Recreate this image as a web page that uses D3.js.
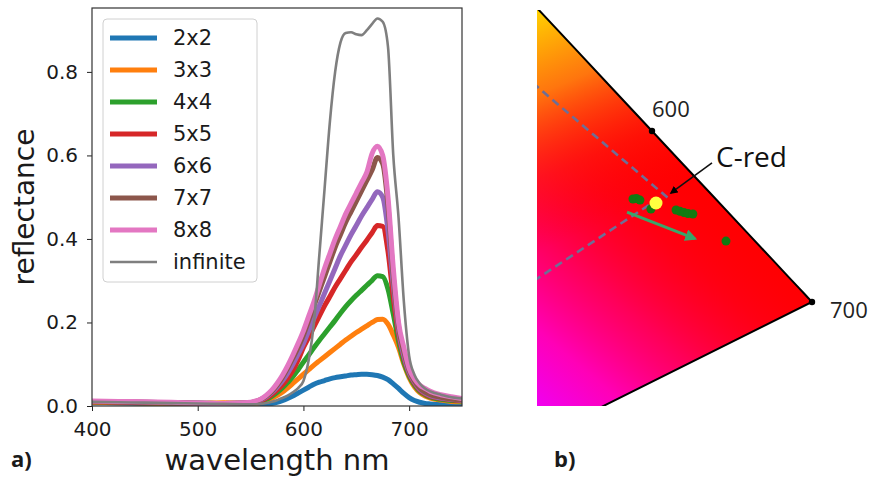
<!DOCTYPE html>
<html>
<head>
<meta charset="utf-8">
<script src="https://cdn.jsdelivr.net/npm/d3@7"></script>
<style>
  body { margin: 0; background: #fff; }
  svg { display: block; }
</style>
</head>
<body>
<svg id="chart" width="869" height="479"></svg>
<script>
// ---- panel a: reflectance spectra ----
const wavelengths = [400,425,450,475,500,525,550,555,560,565,570,575,580,585,590,595,600,605,610,615,620,625,630,635,640,645,650,655,660,665,670,675,680,685,690,695,700,705,710,715,720,730,740,750];

const r2x2 = [.008,.007,.006,.005,.004,.003,.002, .002,.003,.004,.006,.009,.013,.018,.024,.031,
  .038,.045,.052,.057,.061,.065,.068,.070,.072,.074, .075,.076,.076,.075,.073,.069,.063,.053,.042,.030,
  .020,.013,.009,.006,.005,.004,.003,.003];
const r3x3 = [.009,.008,.007,.006,.006,.008,.005, .006,.009,.013,.018,.025,.033,.043,.054,.065,
  .076,.087,.098,.108,.118,.128,.138,.148,.158,.167, .176,.184,.192,.200,.207,.208,.196,.170,.140,.100,
  .068,.046,.032,.024,.019,.014,.011,.010];
const r4x4 = [.010,.009,.008,.007,.006,.006,.006, .008,.011,.016,.023,.032,.043,.056,.070,.087,
  .105,.122,.140,.157,.173,.189,.205,.222,.238,.252, .265,.277,.289,.301,.312,.310,.280,.220,.155,.105,
  .072,.050,.035,.027,.021,.016,.013,.012];
const r5x5 = [.010,.009,.008,.007,.006,.006,.007, .009,.013,.019,.027,.038,.050,.066,.085,.110,
  .140,.165,.190,.215,.240,.262,.285,.305,.325,.345, .362,.380,.397,.415,.432,.430,.370,.260,.170,.115,
  .077,.054,.038,.029,.023,.018,.015,.013];
const r6x6 = [.011,.010,.009,.008,.007,.006,.007, .010,.015,.022,.032,.045,.060,.078,.100,.124,
  .150,.180,.210,.240,.270,.300,.330,.360,.385,.410, .432,.455,.475,.495,.513,.500,.420,.290,.180,.120,
  .080,.057,.040,.031,.025,.019,.016,.014];
const r7x7 = [.011,.010,.009,.008,.007,.006,.008, .011,.016,.024,.035,.050,.068,.090,.115,.140,
  .170,.205,.240,.275,.310,.345,.380,.410,.440,.465, .490,.515,.540,.565,.595,.580,.480,.310,.190,.130,
  .085,.060,.043,.033,.027,.021,.017,.015];
const r8x8 = [.012,.011,.010,.009,.007,.006,.009, .012,.017,.026,.038,.054,.073,.096,.122,.150,
  .180,.215,.250,.290,.330,.365,.400,.430,.460,.485, .510,.535,.560,.605,.622,.600,.500,.330,.200,.140,
  .090,.065,.050,.042,.035,.027,.022,.018];
const rInf = [.010,.009,.008,.007,.006,.005,.004, .004,.005,.007,.010,.014,.019,.025,.033,.043,
  .060,.110,.200,.360,.520,.680,.800,.870,.893,.895, .890,.888,.900,.915,.928,.920,.860,.600,.450,.250,
  .120,.075,.054,.042,.035,.027,.021,.018];

const seriesNames = ['2x2','3x3','4x4','5x5','6x6','7x7','8x8','infinite'];
const seriesValues = [r2x2, r3x3, r4x4, r5x5, r6x6, r7x7, r8x8, rInf];
const seriesColors = ['#1f77b4','#ff7f0e','#2ca02c','#d62728','#9467bd','#8c564b','#e377c2','#7f7f7f'];
const xTicks = [400, 500, 600, 700];
const yTicks = [0, 0.2, 0.4, 0.6, 0.8];

// ---- panel b: chromaticity detail (CIE 1931 xy) ----
const locusWl = [580, 585, 590, 595, 600, 605, 610, 620, 630, 640, 650, 660, 670, 680, 690, 700];
const locusX = [0.5125,0.5448,0.5752,0.6029,0.6270,0.6482,0.6658,0.6915,0.7079,0.7190,0.7260,0.7300,0.7320,0.7334,0.7344,0.7347];
const locusY = [0.4866,0.4544,0.4242,0.3965,0.3725,0.3514,0.3340,0.3083,0.2920,0.2809,0.2740,0.2700,0.2680,0.2666,0.2656,0.2653];
const purpleEnd = [0.1741, 0.0050];      // 380 nm
const markedWl = [600, 700];
const dashedLines = [
  [[0.5400, 0.4080], [0.6378, 0.3305]],
  [[0.5400, 0.2740], [0.6270, 0.3274]]
];
const cRed = [0.6297, 0.3274];
const greenPoints = [[0.6142,0.3299],[0.6165,0.3302],[0.6189,0.3292],[0.6263,0.3236],[0.6432,0.3230],
  [0.6458,0.3222],[0.6485,0.3214],[0.6512,0.3208],[0.6545,0.3205],[0.6768,0.3035]];
const shiftArrow = [[0.6102, 0.3217], [0.6559, 0.3050]];

const svg = d3.select('#chart');
const defs = svg.append('defs');

// ================= panel a =================
const x = d3.scaleLinear().domain([400, 750]).range([92, 462]);
const y = d3.scaleLinear().domain([0, 0.953]).range([406, 8]);

defs.append('clipPath').attr('id', 'clipA').append('rect')
  .attr('x', x.range()[0]).attr('y', y.range()[1])
  .attr('width', x.range()[1] - x.range()[0]).attr('height', y.range()[0] - y.range()[1]);

const line = d3.line()
  .x((d, i) => x(wavelengths[i]))
  .y(d => y(d))
  .curve(d3.curveMonotoneX);

const plotA = svg.append('g').attr('clip-path', 'url(#clipA)');
seriesValues.forEach((vals, i) => {
  plotA.append('path')
    .datum(vals)
    .attr('d', line)
    .attr('fill', 'none')
    .attr('stroke', seriesColors[i])
    .attr('stroke-width', i === 7 ? 2.6 : 5)
    .attr('stroke-linejoin', 'round');
});

const tickFont = g => g.selectAll('text')
  .style('font-family', '"DejaVu Sans", sans-serif')
  .style('font-size', '20px')
  .attr('fill', '#1a1a1a');

svg.append('g')
  .attr('transform', `translate(0,${y(0)})`)
  .call(d3.axisBottom(x).tickValues(xTicks).tickSize(5).tickPadding(11).tickFormat(d3.format('d')))
  .call(g => g.select('.domain').remove())
  .call(g => g.selectAll('line').attr('stroke', '#222'))
  .call(tickFont);

svg.append('g')
  .attr('transform', `translate(${x(400)},0)`)
  .call(d3.axisLeft(y).tickValues(yTicks).tickSize(5).tickPadding(9).tickFormat(d3.format('.1f')))
  .call(g => g.select('.domain').remove())
  .call(g => g.selectAll('line').attr('stroke', '#222'))
  .call(tickFont);

svg.append('rect')
  .attr('x', x.range()[0]).attr('y', y.range()[1])
  .attr('width', x.range()[1] - x.range()[0]).attr('height', y.range()[0] - y.range()[1])
  .attr('fill', 'none').attr('stroke', '#333').attr('stroke-width', 1.2);

// legend
const legend = svg.append('g').attr('transform', 'translate(103,19)');
legend.append('rect')
  .attr('width', 154).attr('height', 263).attr('rx', 4)
  .attr('fill', '#fff').attr('fill-opacity', 0.8)
  .attr('stroke', '#d0d0d0');
seriesNames.forEach((name, i) => {
  const row = legend.append('g').attr('transform', `translate(0,${19 + i * 32})`);
  row.append('line')
    .attr('x1', 7).attr('x2', 54)
    .attr('stroke', seriesColors[i])
    .attr('stroke-width', i === 7 ? 2.6 : 5);
  row.append('text')
    .attr('x', 70).attr('dy', '0.35em')
    .style('font-family', '"DejaVu Sans", sans-serif')
    .style('font-size', '21px')
    .attr('fill', '#1a1a1a')
    .text(name);
});

svg.append('text')
  .attr('x', (x.range()[0] + x.range()[1]) / 2).attr('y', 470)
  .attr('text-anchor', 'middle')
  .style('font-family', '"DejaVu Sans", sans-serif')
  .style('font-size', '29px')
  .attr('fill', '#1a1a1a')
  .text('wavelength nm');

svg.append('text')
  .attr('transform', `translate(34,${(y.range()[0] + y.range()[1]) / 2}) rotate(-90)`)
  .attr('text-anchor', 'middle')
  .style('font-family', '"DejaVu Sans", sans-serif')
  .style('font-size', '28px')
  .attr('fill', '#1a1a1a')
  .text('reflectance');

svg.append('text')
  .attr('x', 11).attr('y', 467)
  .style('font-family', '"Open Sans", sans-serif')
  .style('font-size', '22px').style('font-weight', 700)
  .attr('fill', '#1a1a1a')
  .text('a)');

// ================= panel b =================
const bx = d3.scaleLinear().domain([0.5496, 0.7347]).range([537, 812]);
const by = d3.scaleLinear().domain([0.4484, 0.2001]).range([10, 406]);

defs.append('clipPath').attr('id', 'clipB').append('rect')
  .attr('x', bx(0.5496)).attr('y', by(0.4484))
  .attr('width', 869 - bx(0.5496)).attr('height', by(0.2001) - by(0.4484));

// colour wash
const gYellow = defs.append('linearGradient').attr('id', 'gYellow')
  .attr('gradientUnits', 'userSpaceOnUse')
  .attr('x1', 537).attr('y1', 10).attr('x2', 625).attr('y2', 215);
[[0, '#ffd200', 1], [0.35, '#ff8a10', 0.85], [0.7, '#ff3010', 0.35], [1, '#ff0000', 0]]
  .forEach(s => gYellow.append('stop').attr('offset', s[0]).attr('stop-color', s[1]).attr('stop-opacity', s[2]));

const gMagenta = defs.append('linearGradient').attr('id', 'gMagenta')
  .attr('gradientUnits', 'userSpaceOnUse')
  .attr('x1', 537).attr('y1', 406).attr('x2', 725).attr('y2', 185);
[[0, '#f000f0', 1], [0.2, '#ff00c0', 0.95], [0.45, '#ff0080', 0.7], [0.72, '#ff0040', 0.3], [1, '#ff0000', 0]]
  .forEach(s => gMagenta.append('stop').attr('offset', s[0]).attr('stop-color', s[1]).attr('stop-opacity', s[2]));

const locusPts = locusX.map((v, i) => [v, locusY[i]]);
const outline = locusPts.concat([purpleEnd]);
const polyLine = d3.line().x(d => bx(d[0])).y(d => by(d[1]));

const plotB = svg.append('g').attr('clip-path', 'url(#clipB)');
plotB.append('path').attr('d', polyLine(outline) + 'Z').attr('fill', '#ff0000');
plotB.append('path').attr('d', polyLine(outline) + 'Z').attr('fill', 'url(#gMagenta)');
plotB.append('path').attr('d', polyLine(outline) + 'Z').attr('fill', 'url(#gYellow)');

dashedLines.forEach(seg => {
  plotB.append('path')
    .attr('d', polyLine(seg))
    .attr('fill', 'none')
    .attr('stroke', '#6e6e96')
    .attr('stroke-width', 2.6)
    .attr('stroke-dasharray', '8,5');
});

plotB.selectAll('circle.gp')
  .data(greenPoints)
  .join('circle')
  .attr('class', 'gp')
  .attr('cx', d => bx(d[0])).attr('cy', d => by(d[1]))
  .attr('r', 4.5)
  .attr('fill', '#127a12');

plotB.append('circle')
  .attr('cx', bx(cRed[0])).attr('cy', by(cRed[1]))
  .attr('r', 6.5)
  .attr('fill', '#ffff40');

defs.append('marker').attr('id', 'headGreen')
  .attr('viewBox', '0 0 10 10').attr('refX', 8).attr('refY', 5)
  .attr('markerWidth', 4).attr('markerHeight', 4).attr('orient', 'auto')
  .append('path').attr('d', 'M0,0 L10,5 L0,10 Z').attr('fill', '#3aa66a');

plotB.append('path')
  .attr('d', polyLine(shiftArrow))
  .attr('stroke', '#3aa66a').attr('stroke-width', 3)
  .attr('marker-end', 'url(#headGreen)');

plotB.append('path')
  .attr('d', polyLine(locusPts.concat([purpleEnd])))
  .attr('fill', 'none').attr('stroke', '#000').attr('stroke-width', 2);

// labelled wavelengths
markedWl.forEach(wl => {
  const i = locusWl.indexOf(wl);
  svg.append('circle')
    .attr('cx', bx(locusX[i])).attr('cy', by(locusY[i]))
    .attr('r', 3.2).attr('fill', '#000');
});
const wlLabel = (wl, dx, dy) => {
  const i = locusWl.indexOf(wl);
  svg.append('text')
    .attr('x', bx(locusX[i]) + dx).attr('y', by(locusY[i]) + dy)
    .style('font-family', '"Open Sans", sans-serif')
    .style('font-size', '22px')
    .attr('fill', '#222')
    .text(wl);
};
wlLabel(600, 0, -14);
wlLabel(700, 18, 16);

// C-red annotation
defs.append('marker').attr('id', 'headBlack')
  .attr('viewBox', '0 0 10 10').attr('refX', 8).attr('refY', 5)
  .attr('markerWidth', 5).attr('markerHeight', 5).attr('orient', 'auto')
  .append('path').attr('d', 'M0,0 L10,5 L0,10 Z').attr('fill', '#000');

svg.append('line')
  .attr('x1', bx(cRed[0]) + 56).attr('y1', by(cRed[1]) - 40)
  .attr('x2', bx(cRed[0]) + 15).attr('y2', by(cRed[1]) - 10)
  .attr('stroke', '#111').attr('stroke-width', 1.6)
  .attr('marker-end', 'url(#headBlack)');

svg.append('text')
  .attr('x', bx(cRed[0]) + 60).attr('y', by(cRed[1]) - 36)
  .style('font-family', '"Open Sans", sans-serif')
  .style('font-size', '28px')
  .attr('fill', '#111')
  .text('C-red');

svg.append('text')
  .attr('x', 554).attr('y', 467)
  .style('font-family', '"Open Sans", sans-serif')
  .style('font-size', '22px').style('font-weight', 700)
  .attr('fill', '#1a1a1a')
  .text('b)');
</script>
</body>
</html>
